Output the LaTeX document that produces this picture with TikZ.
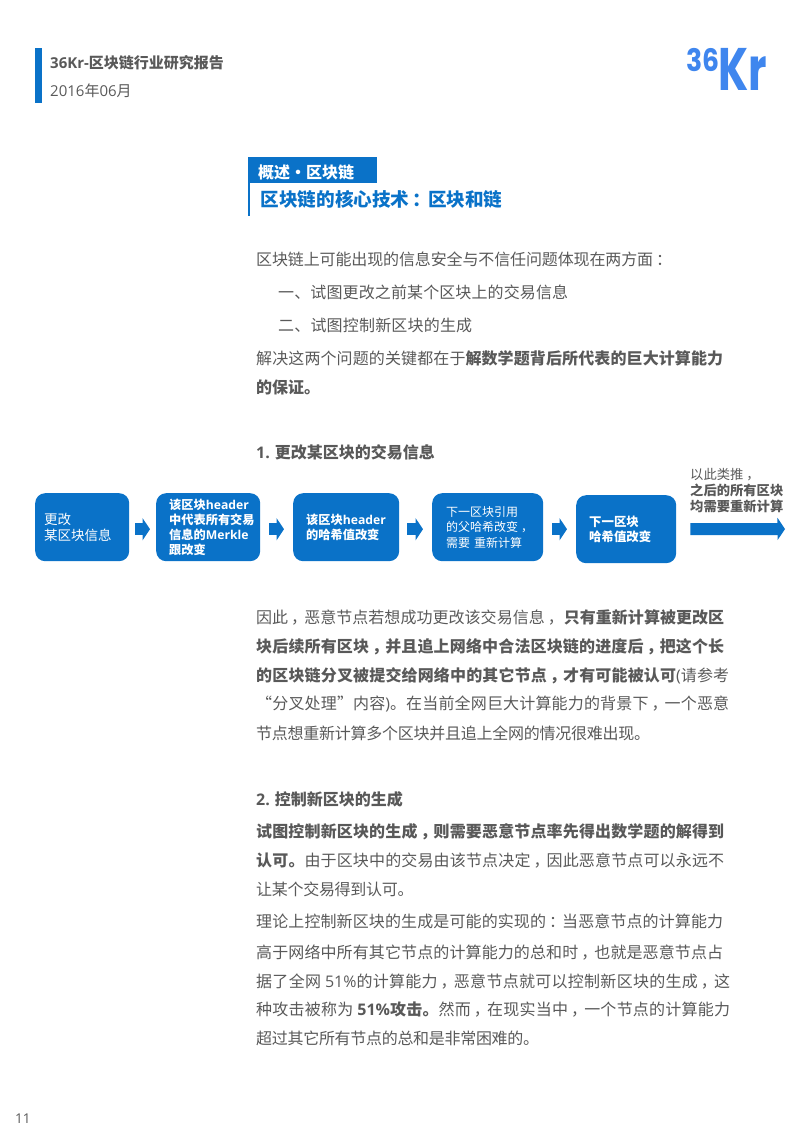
\documentclass[tikz,border=0pt]{standalone}
\usepackage{fontspec}
\setmainfont{Noto Sans CJK SC}
\newfontfamily\latf{Open Sans}
\newfontfamily\logof[FakeStretch=0.72]{Poppins}
\newfontfamily\logog[FakeStretch=0.86]{Poppins}
\newcommand{\enw}[1]{{\latf #1}}
\usetikzlibrary{arrows.meta}
\definecolor{brand}{HTML}{0A72C8}
\definecolor{body}{HTML}{595959}
\definecolor{logoc}{HTML}{3F86EE}
\XeTeXinterchartokenstate=1
\newcount\cjkc
\cjkc="4E00
\loop\ifnum\cjkc<"9FA6
  \XeTeXcharclass\cjkc=1
  \advance\cjkc by 1
\repeat
\XeTeXcharclass"3002=1
\XeTeXcharclass"3001=1
\XeTeXcharclass"201C=1
\XeTeXcharclass"201D=1
\XeTeXcharclass"FF0C=2
\XeTeXcharclass"FF1A=2
\XeTeXinterchartoks 1 1 = {\hskip 0pt plus 1pt minus 0.3pt\relax}
\XeTeXinterchartoks 1 2 = {\kern 3pt\relax}
\XeTeXinterchartoks 2 1 = {\hskip -3pt plus 1pt minus 0.3pt\relax}
\tikzset{
  x=1pt,y=-1pt,
  bodyline/.style={anchor=base west,inner sep=0pt,text=body,font=\fontsize{16}{18}\selectfont},
  headline/.style={anchor=base west,inner sep=0pt,text=body,font=\fontsize{15}{17}\selectfont},
  flowbox/.style={fill=brand,rounded corners=10pt,text=white,inner sep=0pt,align=left,anchor=north west,
     minimum height=68pt,font=\fontsize{12.3}{15}\selectfont},
  blockarrow/.style={draw=brand,line width=12pt,-{Triangle[length=7.5pt,width=22pt]}},
  sidenote/.style={anchor=base west,inner sep=0pt,text=body,font=\fontsize{13.3}{16}\selectfont},
}
\newcommand{\fit}[2]{\makebox[#1pt][s]{#2}}
\newcommand{\ind}[1]{\hspace*{#1pt}}
\begin{document}
\begin{tikzpicture}
\useasboundingbox (0,0) rectangle (800,1132);
% header
\fill[brand] (35,48) rectangle (42,103);
\node[headline,font=\fontsize{15}{17}\bfseries] (h1) at (50,68) {\enw{36Kr-}区块链行业研究报告};
\node[headline] (h2) at (50,96) {\enw{2016}年\enw{06}月};
% logo
\node[anchor=base west,inner sep=0pt,text=logoc,font=\logog\fontsize{31}{32}\bfseries] (lg1) at (686,71) {36};
\node[anchor=base west,inner sep=0pt,text=logoc,font=\logof\fontsize{60}{60}\bfseries] (lg2) at (718,90) {Kr};
% heading
\fill[brand] (248,157) rectangle (377,183);
\fill[brand] (248,183) rectangle (249.5,216);
\node[anchor=base west,inner sep=0pt,text=white,font=\fontsize{16}{17}\bfseries] (t1) at (258,178) {概述・区块链};
\node[anchor=base west,inner sep=0pt,text=brand,font=\fontsize{18.6}{22}\bfseries] (t2) at (260.5,206) {区块链的核心技术：区块和链};
% intro
\node[bodyline] (a1) at (256,265) {\fit{416}{区块链上可能出现的信息安全与不信任问题体现在两方面：}};
\node[bodyline] (a2) at (278,298) {\fit{290}{一、试图更改之前某个区块上的交易信息}};
\node[bodyline] (a3) at (278,331) {\fit{194}{二、试图控制新区块的生成}};
\node[bodyline] (a4) at (256,364) {\fit{467}{解决这两个问题的关键都在于\textbf{解数学题背后所代表的巨大计算能力}}};
\node[bodyline] (a5) at (256,393) {\textbf{的保证。}};
\node[bodyline] (s1) at (256,458) {\textbf{\enw{1.} 更改某区块的交易信息}};
% flow
\node[flowbox,minimum width=94pt,text width=94pt,font=\fontsize{13.5}{16}\selectfont] (b1) at (35,493) {\ind{9}更改\\\ind{9}某区块信息};
\node[flowbox,minimum width=104pt,text width=104pt,font=\fontsize{12.2}{14.9}\bfseries] (b2) at (156,493) {\ind{13}该区块\enw{header}\\\ind{13}中代表所有交易\\\ind{13}信息的\enw{Merkle}\\\ind{13}跟改变};
\node[flowbox,minimum width=106pt,text width=106pt,font=\fontsize{12.2}{14.5}\bfseries] (b3) at (293,493) {\ind{13}该区块\enw{header}\\\ind{13}的哈希值改变};
\node[flowbox,minimum width=111pt,text width=111pt,font=\fontsize{12}{15.6}\selectfont] (b4) at (432,493) {\ind{14}下一区块引用\\\ind{14}的父哈希改变，\\\ind{14}需要 重新计算};
\node[flowbox,minimum width=100pt,text width=100pt,font=\fontsize{12.4}{15}\bfseries] (b5) at (576,495) {\ind{13}下一区块\\\ind{13}哈希值改变};
\coordinate (endc) at (785,529);
\draw[blockarrow,shorten <=6pt,shorten >=6pt] ([yshift=-2pt]b1.east) -- ([yshift=-2pt]b2.west);
\draw[blockarrow,shorten <=9pt,shorten >=9pt] ([yshift=-2pt]b2.east) -- ([yshift=-2pt]b3.west);
\draw[blockarrow,shorten <=8pt,shorten >=9pt] ([yshift=-2pt]b3.east) -- ([yshift=-2pt]b4.west);
\draw[blockarrow,shorten <=9pt,shorten >=9pt] ([yshift=-2pt]b4.east) -- (b5.west);
\draw[blockarrow,shorten <=14pt] (b5.east) -- (endc);
\node[sidenote] (n1) at (690,479) {以此类推，};
\node[sidenote] (n2) at (690,495) {\textbf{之后的所有区块}};
\node[sidenote] (n3) at (690,511) {\textbf{均需要重新计算}};
% paragraph 1
\node[bodyline] (p1) at (256,623) {\fit{468}{因此，恶意节点若想成功更改该交易信息，\textbf{只有重新计算被更改区}}};
\node[bodyline] (p2) at (256,652) {\fit{468}{\textbf{块后续所有区块，并且追上网络中合法区块链的进度后，把这个长}}};
\node[bodyline] (p3) at (256,681) {\fit{473}{\textbf{的区块链分叉被提交给网络中的其它节点，才有可能被认可}\enw{(}请参考}};
\node[bodyline] (p4) at (256,709) {\fit{473}{“分叉处理”内容\enw{)}。在当前全网巨大计算能力的背景下，一个恶意}};
\node[bodyline] (p5) at (256,739) {\fit{394}{节点想重新计算多个区块并且追上全网的情况很难出现。}};
\node[bodyline] (s2) at (256,805) {\textbf{\enw{2.} 控制新区块的生成}};
% paragraph 2
\node[bodyline] (q1) at (256,837) {\fit{468}{\textbf{试图控制新区块的生成，则需要恶意节点率先得出数学题的解得到}}};
\node[bodyline] (q2) at (256,866) {\fit{468}{\textbf{认可。}由于区块中的交易由该节点决定，因此恶意节点可以永远不}};
\node[bodyline] (q3) at (256,895) {\fit{153}{让某个交易得到认可。}};
\node[bodyline] (r1) at (256,927) {\fit{467}{理论上控制新区块的生成是可能的实现的：当恶意节点的计算能力}};
\node[bodyline] (r2) at (256,958) {\fit{467}{高于网络中所有其它节点的计算能力的总和时，也就是恶意节点占}};
\node[bodyline] (r3) at (256,987) {\fit{474}{据了全网\kern4pt\enw{51\%}的计算能力，恶意节点就可以控制新区块的生成，这}};
\node[bodyline] (r4) at (256,1015) {\fit{474}{种攻击被称为\kern4pt\textbf{\enw{51\%}攻击。}然而，在现实当中，一个节点的计算能力}};
\node[bodyline] (r5) at (256,1044) {\fit{282}{超过其它所有节点的总和是非常困难的。}};
% page number
\node[anchor=base west,inner sep=0pt,text=body,font=\latf\fontsize{13.5}{16}\selectfont] (pg) at (15,1123) {11};
\end{tikzpicture}
\end{document}
